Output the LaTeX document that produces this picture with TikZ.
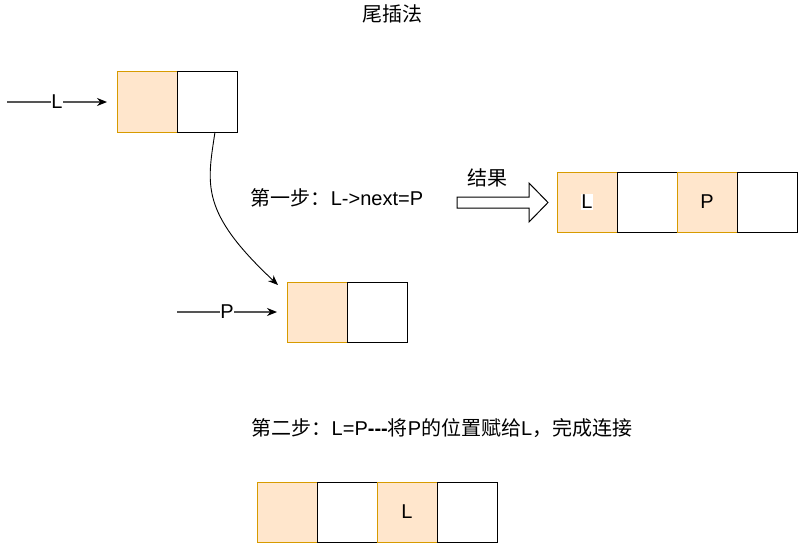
\documentclass[tikz,border=0pt]{standalone}
\usepackage{fontspec}
\setmainfont{Liberation Sans}
\newfontfamily\cjk{Noto Sans CJK SC}
\usetikzlibrary{arrows.meta}
\definecolor{ofill}{HTML}{FFE6CC}
\definecolor{ostroke}{HTML}{D79B00}
\definecolor{edge}{HTML}{555555}
\begin{document}
\begin{tikzpicture}[x=1pt,y=-1pt,
  every node/.style={font=\fontsize{20}{24}\selectfont, inner sep=0pt},
  obox/.style={draw=ostroke, fill=ofill, line width=1pt, minimum width=60pt, minimum height=60pt, inner sep=0pt},
  wbox/.style={draw=black, fill=white, line width=1pt, minimum width=60pt, minimum height=60pt, inner sep=0pt},
  ptr/.style={draw=edge, line width=1.2pt, -{Stealth[length=10pt,width=8pt,color=black]}},
  lbl/.style={fill=white, inner xsep=0.5pt, inner ysep=1pt}
]
\useasboundingbox (0,0) rectangle (798,543);
% title
\node (title) at (392,14) {\cjk 尾插法};
% top L node
\node[obox] (la) at (147,102) {};
\node[wbox] (lb) at (207,102) {};
\coordinate (ls) at (7,102);
\coordinate (le) at (107,102);
\draw[ptr] (ls) -- node[lbl] (lname) {L} (le);
% P node
\node[obox] (pa) at (317,312) {};
\node[wbox] (pb) at (377,312) {};
\coordinate (ps) at (177,312);
\coordinate (pe) at (277,312);
\draw[ptr] (ps) -- node[lbl] (pname) {P} (pe);
% curve
\coordinate (cs) at (215,132);
\coordinate (ce) at (278,285);
\draw[draw=black, line width=0.9pt, -{Stealth[length=10pt,width=8pt]}] (cs) .. controls (207,185) and (200,212) .. (ce);
% step 1 text
\node (step1) at (337,198) {\cjk 第一步：\rmfamily L->next=P};
% result
\node (res) at (487,178) {\cjk 结果};
\draw[draw=black, fill=white, line width=1pt] (457,197) -- (529,197) -- (529,183) -- (548,202.5) -- (529,222) -- (529,208) -- (457,208) -- cycle;
\node[obox] (r1) at (587,202) {};
\node[lbl, fill=white] (r1t) at (587,202) {L};
\node[wbox] (r2) at (647,202) {};
\node[obox] (r3) at (707,202) {P};
\node[wbox] (r4) at (767,202) {};
% step 2 text
\node (step2) at (442,428) {\cjk 第二步：\rmfamily L=P{\bfseries -{}-{}-}\cjk 将\rmfamily P\cjk 的位置赋给\rmfamily L\cjk ，完成连接};
% bottom
\node[obox] (b1) at (287,512) {};
\node[wbox] (b2) at (347,512) {};
\node[obox] (b3) at (407,512) {L};
\node[wbox] (b4) at (467,512) {};
\end{tikzpicture}
\end{document}
